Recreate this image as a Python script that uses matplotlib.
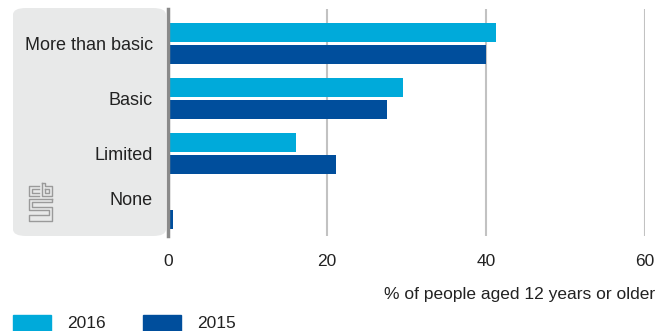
import numpy as np
import matplotlib.pyplot as plt
from matplotlib import font_manager as fm
from matplotlib.patches import FancyBboxPatch, Rectangle
from matplotlib.lines import Line2D
from matplotlib.transforms import ScaledTranslation

categories = ["More than basic", "Basic", "Limited", "None"]
years = ["2016", "2015"]
values_2016 = [41.3, 29.6, 16.1, 0.0]
values_2015 = [40.0, 27.6, 21.1, 0.6]
xticks = [0, 20, 40, 60]
xlabel = "% of people aged 12 years or older"

c2016 = "#00AADA"
c2015 = "#004E9C"
txt = "#222222"

# narrow font if there is one
names = {f.name for f in fm.fontManager.ttflist}
font = 'Liberation Sans Narrow' if 'Liberation Sans Narrow' in names else 'Liberation Sans'
plt.rcParams['font.family'] = [font, 'DejaVu Sans']

W, H = 660, 331
fig = plt.figure(figsize=(W / 100, H / 100), dpi=100)


def fy(y):
    return 1 - y / H


# grey panel behind the category labels
panel = FancyBboxPatch((13 / W, fy(236)), (166 - 13) / W, (236 - 8) / H,
                       boxstyle="round,pad=0,rounding_size=0.02",
                       transform=fig.transFigure, facecolor="#E8E9E9",
                       edgecolor="none", zorder=0)
fig.patches.append(panel)

ax = fig.add_axes([168 / W, fy(236), (645 - 168) / W, (236 - 9) / H], zorder=2)
ax.patch.set_alpha(0)

y = np.arange(len(categories))
h = 0.345
ax.barh(y - 0.2, values_2016, height=h, color=c2016, zorder=3)
ax.barh(y + 0.2, values_2015, height=h, color=c2015, zorder=3)

ax.set_xlim(0, 60)
ax.set_ylim(3.5, -0.627)
ax.set_xticks(xticks)
ax.set_xticklabels([str(t) for t in xticks], fontsize=12.5, color=txt)
ax.set_yticks(y)
ax.set_yticklabels(categories, fontsize=13, color=txt)
ax.tick_params(axis='both', length=0)
ax.tick_params(axis='x', pad=13)
ax.tick_params(axis='y', pad=11)
# "None" sits a bit higher in the original
lbl = ax.get_yticklabels()[3]
lbl.set_transform(lbl.get_transform() + ScaledTranslation(0, 0.1, fig.dpi_scale_trans))

for s in ['top', 'right', 'bottom']:
    ax.spines[s].set_visible(False)
ax.spines['left'].set_color("#8A8A8A")
ax.spines['left'].set_linewidth(2.5)
ax.spines['left'].set_zorder(4)
ax.grid(axis='x', color="#C2C2C2", linewidth=1.5, zorder=1)
ax.set_axisbelow(True)

fig.text(655 / W, fy(295), xlabel, ha='right', va='center', fontsize=12.5, color=txt)

# legend
fig.patches.append(Rectangle((13 / W, 0), 38 / W, (331 - 315) / H,
                             transform=fig.transFigure, color=c2016))
fig.patches.append(Rectangle((143 / W, 0), 38 / W, (331 - 315) / H,
                             transform=fig.transFigure, color=c2015))
fig.text(67 / W, fy(323), years[0], ha='left', va='center', fontsize=12.5, color=txt)
fig.text(197 / W, fy(323), years[1], ha='left', va='center', fontsize=12.5, color=txt)

# rough cbs logo
logo = "#9A9A9A"
segs = [
    # c
    [(39, 186), (29, 186), (29, 196), (39, 196)],
    [(39, 189), (32, 189), (32, 193), (39, 193)],
    # b
    [(42, 183), (42, 196), (52, 196), (52, 186), (45, 186), (45, 183), (42, 183)],
    [(45, 189), (49, 189), (49, 193), (45, 193), (45, 189)],
    # s
    [(52, 199), (29, 199), (29, 210), (49, 210), (49, 215), (29, 215), (29, 221),
     (52, 221), (52, 207), (32, 207), (32, 202), (52, 202), (52, 199)],
]
for seg in segs:
    xs = [p[0] / W for p in seg]
    ys = [fy(p[1]) for p in seg]
    fig.add_artist(Line2D(xs, ys, transform=fig.transFigure, color=logo, linewidth=1.0))

fig.savefig("out.png", dpi=100)
